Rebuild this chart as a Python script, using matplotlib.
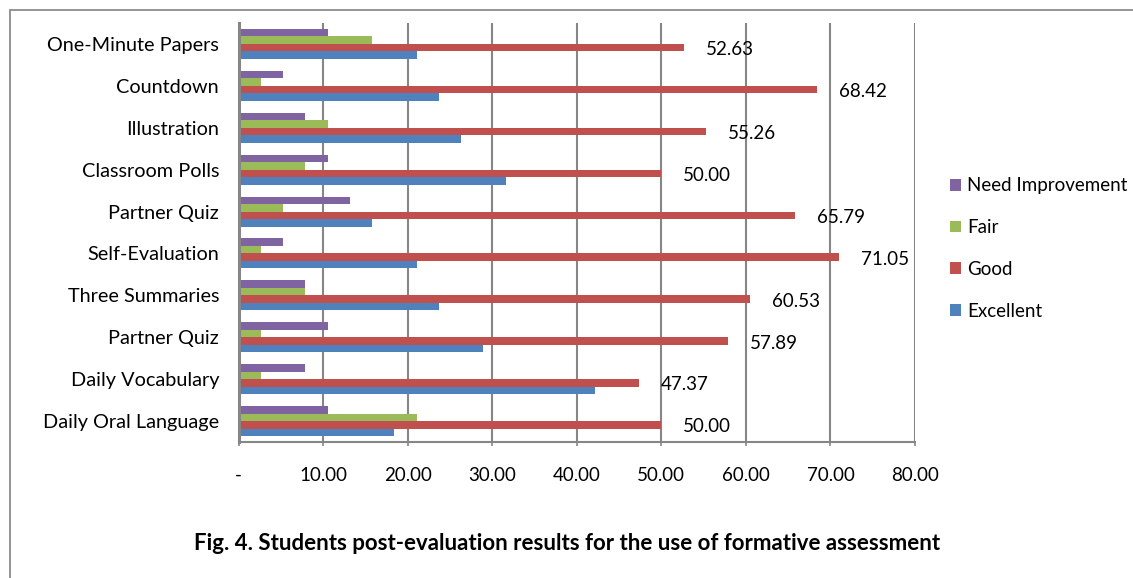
import matplotlib
matplotlib.use("Agg")
import matplotlib.pyplot as plt
import matplotlib.patches as mpatches
from matplotlib.ticker import FuncFormatter
import numpy as np

plt.rcParams['font.family'] = ['Lato', 'DejaVu Sans']

# Activities, listed bottom to top
categories = ["Daily Oral Language", "Daily Vocabulary", "Partner Quiz",
              "Three Summaries", "Self-Evaluation", "Partner Quiz",
              "Classroom Polls", "Illustration", "Countdown", "One-Minute Papers"]

excellent = [18.42, 42.11, 28.95, 23.68, 21.05, 15.79, 31.58, 26.32, 23.68, 21.05]
good = [50.00, 47.37, 57.89, 60.53, 71.05, 65.79, 50.00, 55.26, 68.42, 52.63]
fair = [21.05, 2.63, 2.63, 7.89, 2.63, 5.26, 7.89, 10.53, 2.63, 15.79]
need_improvement = [10.53, 7.89, 10.53, 7.89, 5.26, 13.16, 10.53, 7.89, 5.26, 10.53]

series_names = ["Excellent", "Good", "Fair", "Need Improvement"]
series_values = [excellent, good, fair, need_improvement]
series_colors = ["#4F81BD", "#C0504D", "#9BBB59", "#8064A2"]

x_ticks = [0, 10, 20, 30, 40, 50, 60, 70, 80]
title = "Fig. 4. Students post-evaluation results for the use of formative assessment"

W, H = 1133, 578
fig = plt.figure(figsize=(W / 100, H / 100), dpi=100)
ax = fig.add_axes([238.5 / W, 1 - 442 / H, (915 - 238.5) / W, (442 - 23) / H])

y = np.arange(len(categories))
bar_h = 0.179
offsets = [-1.5, -0.5, 0.5, 1.5]
bars = {}
for name, vals, col, off in zip(series_names, series_values, series_colors, offsets):
    bars[name] = ax.barh(y + off * bar_h, vals, height=bar_h, color=col,
                         edgecolor="none", label=name, zorder=3)

# Value labels on the "Good" series
for rect, v in zip(bars["Good"], good):
    ax.annotate(f"{v:.2f}", xy=(v, rect.get_y() + rect.get_height() / 2),
                xytext=(15.8, -1.5), textcoords="offset points",
                ha="left", va="center", fontsize=13.5, color="black", zorder=4)

ax.set_xlim(0, 80)
ax.set_ylim(-0.5, len(categories) - 0.5)
ax.set_xticks(x_ticks)
ax.xaxis.set_major_formatter(FuncFormatter(lambda v, p: "-" if v == 0 else f"{v:.2f}"))
ax.set_yticks(y)
ax.set_yticklabels(categories)

grid_col = "#868686"
ax.grid(axis="x", color=grid_col, linewidth=1.5, zorder=0)
ax.set_axisbelow(True)
for side in ["top", "right"]:
    ax.spines[side].set_visible(False)
ax.spines["left"].set_color(grid_col)
ax.spines["left"].set_linewidth(2.2)
ax.spines["left"].set_zorder(5)
ax.spines["bottom"].set_color(grid_col)
ax.spines["bottom"].set_linewidth(1.5)

ax.tick_params(axis="y", length=0, pad=14, labelsize=14.3, labelcolor="black")
ax.tick_params(axis="x", length=3, width=1.2, color=grid_col, pad=15,
               labelsize=13.5, labelcolor="black")

# Legend on the right
handles = [bars[n] for n in reversed(series_names)]
ax.legend(handles, list(reversed(series_names)), loc="center left",
          bbox_to_anchor=(950 / W, 1 - 248.5 / H), bbox_transform=fig.transFigure,
          frameon=False, fontsize=13.5, handlelength=0.6, handleheight=0.6,
          handletextpad=0.3, labelspacing=1.32, borderaxespad=0, borderpad=0)

fig.text(567 / W, 1 - 544 / H, title, ha="center", va="center",
         fontsize=16, fontweight="bold", color="black")

# Outer frame around the chart
frame = mpatches.Rectangle((9.5 / W, -0.1), 1.2, (H - 10.5) / H + 0.1,
                           transform=fig.transFigure, fill=False,
                           edgecolor="#8c8c8c", linewidth=1.3, zorder=10)
fig.patches.append(frame)

fig.savefig("out.png", dpi=100, facecolor="white")
